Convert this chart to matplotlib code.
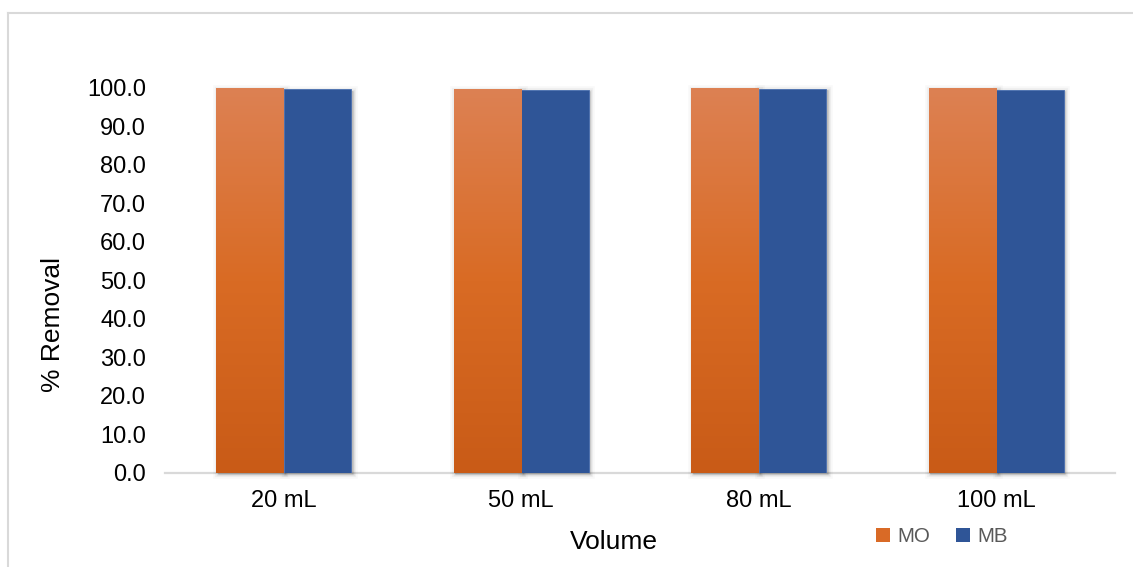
import numpy as np
import matplotlib
matplotlib.use("Agg")
import matplotlib.pyplot as plt
from matplotlib.patches import Rectangle, Patch
from matplotlib.colors import LinearSegmentedColormap
from matplotlib.lines import Line2D
import matplotlib.transforms as mtransforms

plt.rcParams['font.family'] = ['Liberation Sans', 'DejaVu Sans']

# Data
volumes = ["20 mL", "50 mL", "80 mL", "100 mL"]
mo_removal = [100.0, 99.7, 100.0, 100.0]
mb_removal = [99.7, 99.5, 99.8, 99.5]
series_names = ["MO", "MB"]
y_ticks = [0, 10, 20, 30, 40, 50, 60, 70, 80, 90, 100]

W, H, DPI = 1133, 567, 100
fig = plt.figure(figsize=(W / DPI, H / DPI), dpi=DPI)
fig.patch.set_facecolor("white")

ax_left, ax_right = 165 / W, 1115 / W
ax_bottom, ax_top = 1 - 472.5 / H, 1 - 88 / H
ax = fig.add_axes([ax_left, ax_bottom, ax_right - ax_left, ax_top - ax_bottom])

orange_cmap = LinearSegmentedColormap.from_list(
    "orange_grad", ["#C95B17", "#D96B24", "#DD8153"])
blue = "#2F5597"
mid_orange = "#D96A26"

x = np.arange(len(volumes))
width = 0.284

mo_bars = ax.bar(x - width / 2, mo_removal, width, color=mid_orange,
                 linewidth=0, zorder=3)
mb_bars = ax.bar(x + width / 2, mb_removal, width, color=blue,
                 edgecolor="#4A6FB0", linewidth=0.6, zorder=3)

# soft drop shadow behind every bar
shadow_tf = ax.transData + mtransforms.ScaledTranslation(1.5 / DPI, -1.5 / DPI,
                                                         fig.dpi_scale_trans)
for bar in list(mo_bars) + list(mb_bars):
    bx, by = bar.get_x(), bar.get_y()
    bw, bh = bar.get_width(), bar.get_height()
    for lw, a in [(7, 0.025), (4.5, 0.035), (2.5, 0.05), (1, 0.06)]:
        ax.add_patch(Rectangle((bx, by), bw, bh, transform=shadow_tf,
                               facecolor=(0, 0, 0, a), edgecolor=(0, 0, 0, a),
                               linewidth=lw, zorder=2, clip_on=False))

# vertical gradient fill on the MO bars
grad = np.linspace(0, 1, 256).reshape(-1, 1)
for bar in mo_bars:
    bx, bw, bh = bar.get_x(), bar.get_width(), bar.get_height()
    im = ax.imshow(grad, cmap=orange_cmap, origin="lower", aspect="auto",
                   extent=(bx, bx + bw, 0, bh), zorder=3.5)
    im.set_clip_path(bar)

ax.set_xlim(-0.5, len(volumes) - 0.5)
ax.set_ylim(0, 100)
ax.set_xticks(x)
ax.set_xticklabels(volumes)
ax.set_yticks(y_ticks)
ax.set_yticklabels([f"{v:.1f}" for v in y_ticks])
ax.tick_params(axis="both", length=0, labelsize=17, colors="black")
ax.tick_params(axis="y", pad=13.7)
ax.tick_params(axis="x", pad=12.5)

for side in ["left", "top", "right"]:
    ax.spines[side].set_visible(False)
ax.spines["bottom"].set_color("#D9D9D9")
ax.spines["bottom"].set_linewidth(1.6)
ax.spines["bottom"].set_zorder(1)
ax.set_facecolor("none")

# axis titles
fig.text(614 / W, 1 - 549 / H, "Volume", ha="center", va="baseline",
         fontsize=19, color="black")
fig.text(41 / W, 1 - 325 / H, "% Removal", ha="left", va="center",
         rotation=90, fontsize=19, color="black")

# legend
handles = [Patch(facecolor=mid_orange, edgecolor="none"),
           Patch(facecolor=blue, edgecolor="none")]
leg = ax.legend(handles, series_names, loc="center left",
                bbox_to_anchor=(876 / W, 1 - 537 / H),
                bbox_transform=fig.transFigure, ncol=2, frameon=False,
                fontsize=14.8, handlelength=0.68, handleheight=0.68,
                handletextpad=0.34, columnspacing=1.27, borderpad=0,
                borderaxespad=0)
for t in leg.get_texts():
    t.set_color("#595959")

# chart-area border (left and top edges)
border_kw = dict(color="#D9D9D9", linewidth=1.5, transform=fig.transFigure)
fig.add_artist(Line2D([8 / W, 8 / W], [0, 1 - 13 / H], **border_kw))
fig.add_artist(Line2D([8 / W, 1], [1 - 13 / H, 1 - 13 / H], **border_kw))

fig.savefig("out.png", dpi=DPI, facecolor="white")
